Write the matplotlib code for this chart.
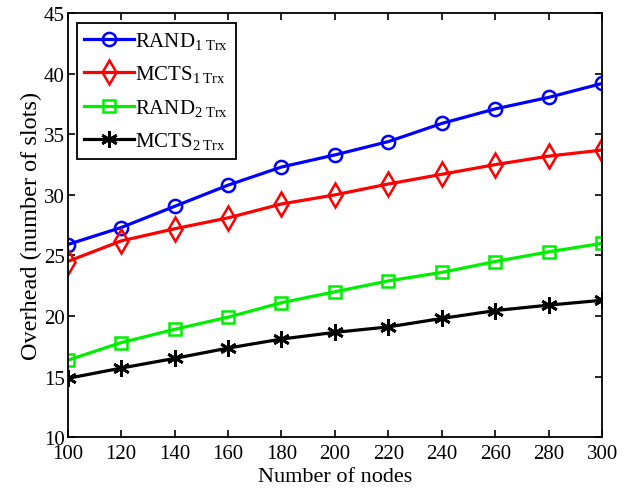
import matplotlib
matplotlib.use("Agg")
import matplotlib.pyplot as plt

plt.rcParams['font.family'] = ['Liberation Serif', 'DejaVu Serif']
plt.rcParams['mathtext.fontset'] = 'custom'
plt.rcParams['mathtext.rm'] = 'Liberation Serif'
plt.rcParams['mathtext.it'] = 'Liberation Serif:italic'

nodes = [100, 120, 140, 160, 180, 200, 220, 240, 260, 280, 300]
rand_1trx = [25.9, 27.3, 29.05, 30.8, 32.3, 33.3, 34.4, 35.9, 37.1, 38.05, 39.2]
mcts_1trx = [24.5, 26.2, 27.2, 28.1, 29.25, 30.0, 30.9, 31.7, 32.5, 33.2, 33.7]
rand_2trx = [16.35, 17.8, 18.9, 19.9, 21.1, 22.0, 22.9, 23.6, 24.5, 25.3, 26.0]
mcts_2trx = [14.85, 15.7, 16.5, 17.35, 18.1, 18.65, 19.1, 19.8, 20.45, 20.9, 21.3]

labels = [r'RAND$_{\mathrm{1\ Trx}}$', r'MCTS$_{\mathrm{1\ Trx}}$',
          r'RAND$_{\mathrm{2\ Trx}}$', r'MCTS$_{\mathrm{2\ Trx}}$']

fig = plt.figure(figsize=(6.26, 4.89), dpi=100)
ax = fig.add_axes([0.108, 0.104, 0.854, 0.867])

ax.plot(nodes, rand_1trx, color='#0000ff', lw=2.3, marker='o', ms=9.5,
        mfc='none', mew=1.8, label=labels[0])
ax.plot(nodes, mcts_1trx, color='#ff0000', lw=2.3, marker='d', ms=12,
        mfc='none', mew=1.8, label=labels[1])
ax.plot(nodes, rand_2trx, color='#00ee00', lw=2.3, marker='s', ms=8.5,
        mfc='none', mew=1.8, label=labels[2])
ax.plot(nodes, mcts_2trx, color='black', lw=2.3, marker=(6, 2, 0), ms=12,
        mew=2, label=labels[3])

ax.set_xlim(100, 300)
ax.set_ylim(10, 45)
ax.set_xticks(nodes)
ax.set_yticks(range(10, 46, 5))
ax.tick_params(direction='in', top=True, right=True, labelsize=15, length=5, width=1.2)
ax.tick_params(axis='x', pad=5)
ax.tick_params(axis='y', pad=2)
for s in ax.spines.values():
    s.set_linewidth(1.3)
ax.set_xlabel('Number of nodes', fontsize=16, labelpad=3)
ax.set_ylabel('Overhead (number of slots)', fontsize=17.5, labelpad=1)

leg = ax.legend(loc='upper left', fontsize=15, fancybox=False, framealpha=1,
                edgecolor='black', handlelength=2.4, handletextpad=0.05,
                borderpad=0.35, labelspacing=0.6, borderaxespad=0.45)
leg.get_frame().set_linewidth(1.3)

fig.savefig('out.png', dpi=100)
